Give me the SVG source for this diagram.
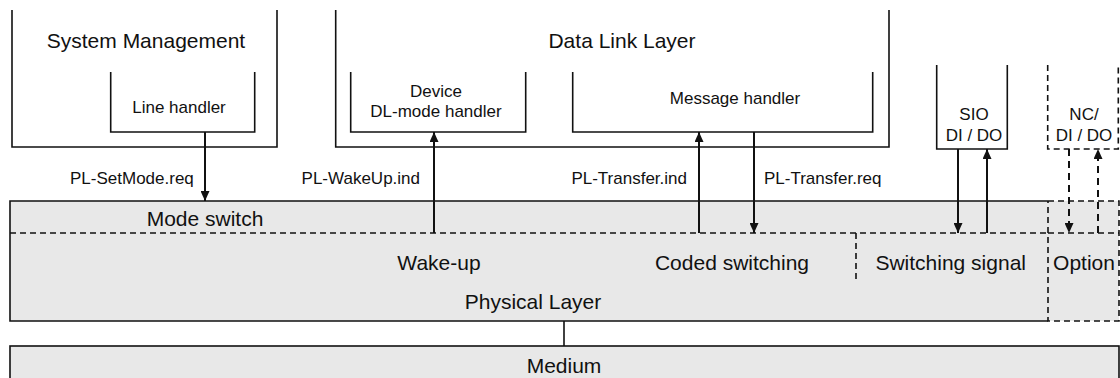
<svg xmlns="http://www.w3.org/2000/svg" width="1120" height="378" viewBox="0 0 1120 378">
<style>
text{font-family:"Liberation Sans",Arial,sans-serif;fill:#111}
.big{font-size:21px}
.sm{font-size:17px}
.box{fill:none;stroke:#111;stroke-width:1.6}
.dbox{fill:none;stroke:#111;stroke-width:1.6;stroke-dasharray:6 4}
.grey{fill:#e8e8e8}
.arr{stroke:#111;stroke-width:2;fill:none;marker-end:url(#ah)}
.darr{stroke:#111;stroke-width:2;fill:none;stroke-dasharray:7 5;marker-end:url(#ah)}
</style>
<defs>
<marker id="ah" markerUnits="userSpaceOnUse" markerWidth="10" markerHeight="9" refX="10" refY="4.5" orient="auto">
<path d="M0,0 L10,4.5 L0,9 z" fill="#111"/>
</marker>
</defs>

<g id="system-management">
<path class="box" d="M12,10 V147 H277 V10"/>
<text class="big" x="146" y="48" text-anchor="middle">System Management</text>
</g>
<g id="line-handler">
<path class="box" d="M110.7,72 V132 H254.7 V72"/>
<text class="sm" x="179" y="113" text-anchor="middle">Line handler</text>
</g>

<g id="data-link-layer">
<path class="box" d="M335.7,10 V147 H889 V10"/>
<text class="big" x="622" y="48" text-anchor="middle">Data Link Layer</text>
</g>
<g id="device-dl-mode-handler">
<path class="box" d="M350.7,72 V132 H525.7 V72"/>
<text class="sm" x="436" y="97" text-anchor="middle">Device</text>
<text class="sm" x="436" y="117" text-anchor="middle">DL-mode handler</text>
</g>
<g id="message-handler">
<path class="box" d="M572.7,72 V132 H872.7 V72"/>
<text class="sm" x="735" y="104" text-anchor="middle">Message handler</text>
</g>

<g id="sio">
<path class="box" d="M936.7,65 V149 H1007.3 V65"/>
<text class="sm" x="974" y="120" text-anchor="middle">SIO</text>
<text class="sm" x="974" y="141" text-anchor="middle">DI / DO</text>
</g>
<g id="nc-di-do">
<path class="dbox" d="M1047.7,65 V149 H1118.3 V65"/>
<text class="sm" x="1084" y="120" text-anchor="middle">NC/</text>
<text class="sm" x="1084" y="141" text-anchor="middle">DI / DO</text>
</g>

<g id="physical-layer">
<rect class="grey" x="10" y="201" width="1038" height="120"/>
<path class="box" d="M1048,201 H10 V321 H1048"/>
<line x1="10" y1="233" x2="1048" y2="233" stroke="#111" stroke-width="1.6" stroke-dasharray="6 4"/>
<line x1="856" y1="233" x2="856" y2="283" stroke="#111" stroke-width="1.6" stroke-dasharray="6 4"/>
<text class="big" x="205" y="226" text-anchor="middle">Mode switch</text>
<text class="big" x="439" y="270" text-anchor="middle">Wake-up</text>
<text class="big" x="732" y="270" text-anchor="middle">Coded switching</text>
<text class="big" x="1026" y="270" text-anchor="end">Switching signal</text>
<text class="big" x="533" y="309" text-anchor="middle">Physical Layer</text>
</g>
<g id="option">
<rect class="grey" x="1048" y="201" width="71" height="120"/>
<path class="dbox" d="M1048,201 H1119 V321 H1048 V201"/>
<line x1="1048" y1="233" x2="1119" y2="233" stroke="#111" stroke-width="1.6" stroke-dasharray="6 4"/>
<text class="big" x="1084" y="270" text-anchor="middle">Option</text>
</g>

<g id="medium">
<rect class="grey" x="10" y="346" width="1109" height="40" stroke="#111" stroke-width="1.6"/>
<text class="big" x="564" y="373" text-anchor="middle">Medium</text>
</g>

<g id="connectors">
<line class="arr" x1="205" y1="132" x2="205" y2="201"/>
<line class="arr" x1="434" y1="233" x2="434" y2="132"/>
<line class="arr" x1="699" y1="233" x2="699" y2="132"/>
<line class="arr" x1="754" y1="132" x2="754" y2="233"/>
<line class="arr" x1="958" y1="149" x2="958" y2="233"/>
<line class="arr" x1="987" y1="233" x2="987" y2="149"/>
<line class="darr" x1="1069" y1="149" x2="1069" y2="233"/>
<line class="darr" x1="1098" y1="233" x2="1098" y2="149"/>
<line x1="564" y1="321" x2="564" y2="346" stroke="#111" stroke-width="1.6"/>
<text class="sm" x="70" y="184">PL-SetMode.req</text>
<text class="sm" x="420" y="184" text-anchor="end">PL-WakeUp.ind</text>
<text class="sm" x="687" y="184" text-anchor="end">PL-Transfer.ind</text>
<text class="sm" x="764" y="184">PL-Transfer.req</text>
</g>
</svg>
